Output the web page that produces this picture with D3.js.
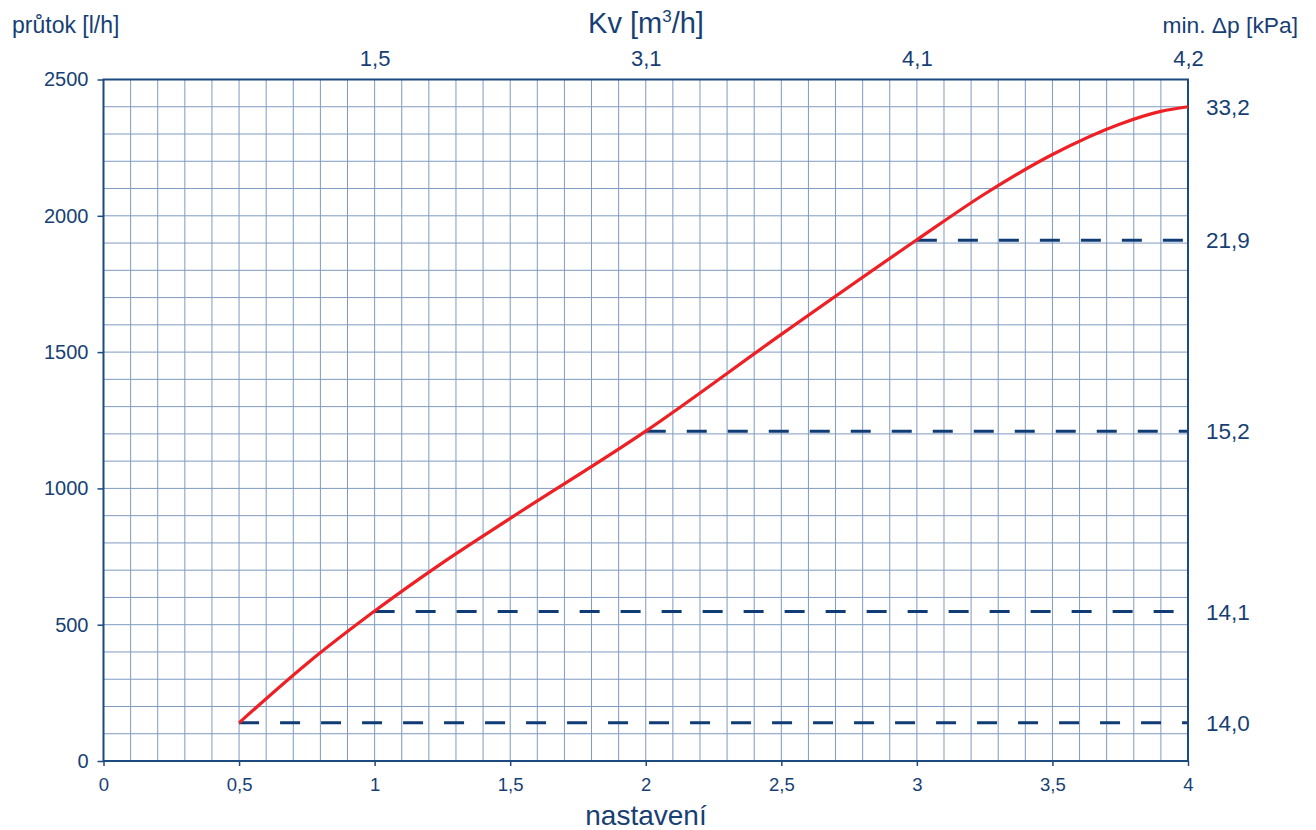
<!DOCTYPE html>
<html>
<head>
<meta charset="utf-8">
<script src="https://cdn.jsdelivr.net/npm/d3@7"></script>
<style>
  body { margin: 0; background: #fff; }
  svg { font-family: "Liberation Sans", Arial, sans-serif; }
</style>
</head>
<body>
<svg id="chart"></svg>
<script>
// chart data
const settings = [0.5, 0.75, 1.0, 1.25, 1.5, 2.0, 2.5, 3.0, 3.25, 3.5, 3.75, 3.9, 4.0];
const flows = [140, 357, 550, 727, 890, 1210, 1565, 1912, 2080, 2225, 2337, 2383, 2400];

// Kv values on the top axis
const kvSettings = [1, 2, 3, 4];
const kvLabels = ['1,5', '3,1', '4,1', '4,2'];

// min. pressure drop levels (dashed lines + right labels)
const dpSettings = [0.5, 1, 2, 3, 4];
const dpFlows = [140, 548, 1210, 1910, 2400];
const dpLabels = ['14,0', '14,1', '15,2', '21,9', '33,2'];

const xTicks = [0, 0.5, 1, 1.5, 2, 2.5, 3, 3.5, 4];
const yTicks = [0, 500, 1000, 1500, 2000, 2500];

const W = 1316, H = 830;
const margin = { top: 79.5, right: 128, bottom: 69, left: 103.5 };
const NAVY = '#173f74';

const svg = d3.select('#chart').attr('width', W).attr('height', H);

const x = d3.scaleLinear().domain([0, 4]).range([margin.left, W - margin.right]);
const y = d3.scaleLinear().domain([0, 2500]).range([H - margin.bottom, margin.top]);
const comma = d => String(d).replace('.', ',');

// grid
const grid = svg.append('g').attr('class', 'grid')
  .attr('stroke', '#7f9ac0').attr('stroke-width', 1);
grid.selectAll('line.v').data(d3.range(1, 40).map(i => i / 10)).join('line')
  .attr('class', 'v')
  .attr('x1', d => x(d)).attr('x2', d => x(d))
  .attr('y1', y(0)).attr('y2', y(2500));
grid.selectAll('line.h').data(d3.range(1, 25).map(i => i * 100)).join('line')
  .attr('class', 'h')
  .attr('x1', x(0)).attr('x2', x(4))
  .attr('y1', d => y(d)).attr('y2', d => y(d));

// frame
svg.append('rect')
  .attr('x', x(0)).attr('y', y(2500))
  .attr('width', x(4) - x(0)).attr('height', y(0) - y(2500))
  .attr('fill', 'none').attr('stroke', '#1d4a80').attr('stroke-width', 2);

// left axis
const gy = svg.append('g')
  .attr('transform', `translate(${x(0)},0)`)
  .call(d3.axisLeft(y).tickValues(yTicks).tickSize(6).tickSizeOuter(0).tickPadding(9).tickFormat(d => d));
// bottom axis
const gx = svg.append('g')
  .attr('transform', `translate(0,${y(0)})`)
  .call(d3.axisBottom(x).tickValues(xTicks).tickSize(5).tickSizeOuter(0).tickPadding(12).tickFormat(comma));
// top axis (Kv)
const gt = svg.append('g')
  .attr('transform', `translate(0,${y(2500)})`)
  .call(d3.axisTop(x).tickValues(kvSettings).tickSize(0).tickSizeOuter(0).tickPadding(14)
    .tickFormat((d, i) => kvLabels[i]));

[gy, gx, gt].forEach(g => {
  g.select('.domain').remove();
  g.selectAll('.tick line').attr('stroke', '#1d4a80').attr('stroke-width', 1.5);
  g.selectAll('.tick text').attr('fill', NAVY).attr('font-family', '"Liberation Sans", Arial, sans-serif');
});
gy.selectAll('.tick text').attr('font-size', 20);
gx.selectAll('.tick text').attr('font-size', 18.5);
gt.selectAll('.tick text').attr('font-size', 22);

// dashed min. Δp lines
const dp = dpSettings.map((s, i) => ({ s, f: dpFlows[i], label: dpLabels[i] }));
svg.append('g').selectAll('line').data(dp.filter(d => d.s < 4)).join('line')
  .attr('x1', d => x(d.s)).attr('x2', x(4) - 1)
  .attr('y1', d => y(d.f)).attr('y2', d => y(d.f))
  .attr('stroke', '#0f3c74').attr('stroke-width', 3)
  .attr('stroke-dasharray', '20,21');

// right labels
svg.append('g').selectAll('text').data(dp).join('text')
  .attr('x', x(4) + 18).attr('y', d => y(d.f))
  .attr('dy', '0.36em')
  .attr('fill', NAVY).attr('font-size', 22.5)
  .text(d => d.label);

// flow curve
const line = d3.line()
  .x((d, i) => x(settings[i]))
  .y(d => y(d))
  .curve(d3.curveMonotoneX);
svg.append('path')
  .datum(flows)
  .attr('d', line)
  .attr('fill', 'none')
  .attr('stroke', '#ee2024')
  .attr('stroke-width', 3.2);

// titles
svg.append('text').attr('x', 12).attr('y', 33)
  .attr('fill', NAVY).attr('font-size', 23).text('průtok [l/h]');
svg.append('text').attr('x', 1298).attr('y', 33).attr('text-anchor', 'end')
  .attr('fill', NAVY).attr('font-size', 22.8).text('min. Δp [kPa]');
const kv = svg.append('text').attr('x', 646).attr('y', 33).attr('text-anchor', 'middle')
  .attr('fill', NAVY).attr('font-size', 29);
kv.append('tspan').text('Kv [m');
kv.append('tspan').attr('font-size', 17).attr('dy', -11).text('3');
kv.append('tspan').attr('dy', 11).text('/h]');
svg.append('text').attr('x', 646).attr('y', 825).attr('text-anchor', 'middle')
  .attr('fill', NAVY).attr('font-size', 28).text('nastavení');
</script>
</body>
</html>
